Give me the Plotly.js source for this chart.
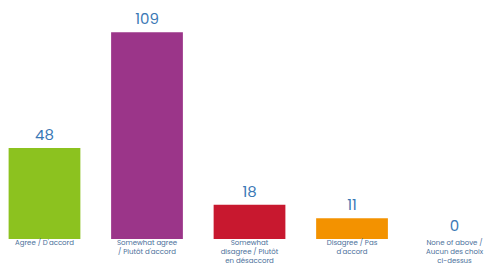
<!DOCTYPE html>
<html><head><meta charset="utf-8">
<script src="https://cdn.plot.ly/plotly-3.0.1.min.js"></script>
<style>html,body{margin:0;padding:0;background:#fff;}#c{width:486px;height:266px;}</style>
</head><body><div id="c"></div>
<script>
const categories = ["Agree / D'accord", "Somewhat agree<br>/ Plutôt d'accord", "Somewhat<br>disagree / Plutôt<br>en désaccord", "Disagree / Pas<br>d'accord", "None of above /<br>Aucun des choix<br>ci-dessus"];
const values = [48, 109, 18, 11, 0];
const colors = ["#8cc21f", "#9b3589", "#c8182f", "#f39200", "#cccccc"];

Plotly.newPlot('c', [{
  type: 'bar',
  x: categories,
  y: values,
  marker: {color: colors},
  text: values.map(String),
  textposition: 'outside',
  cliponaxis: false,
  textfont: {family: 'Poppins, "Open Sans", sans-serif', size: 15, color: '#3a78b5'},
  hoverinfo: 'none'
}], {
  width: 486, height: 266,
  margin: {l: 0, r: 0, t: 0, b: 27},
  paper_bgcolor: '#fff', plot_bgcolor: '#fff',
  bargap: 0.3,
  showlegend: false,
  xaxis: {range: [-0.434, 4.307], showgrid: false, zeroline: false, showline: false, ticks: '',
    ticklabelstandoff: -2,
    tickfont: {family: 'Poppins, "Open Sans", sans-serif', size: 7, color: '#4a6f9a'}, automargin: false},
  yaxis: {range: [0, 126], visible: false, fixedrange: true}
}, {staticPlot: true});
</script></body></html>
